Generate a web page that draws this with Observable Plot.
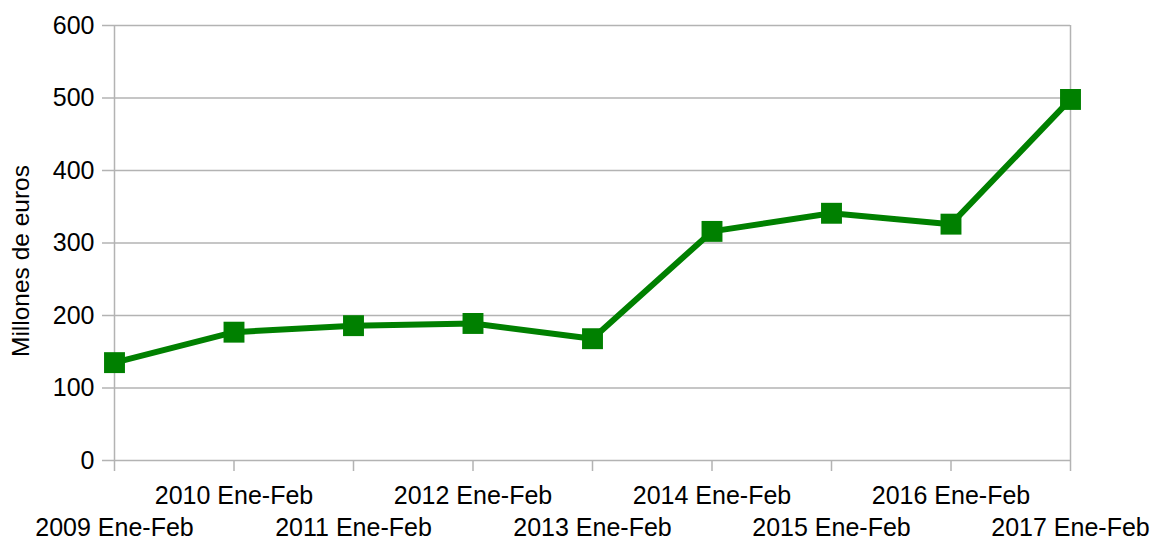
<!DOCTYPE html>
<html>
<head>
<meta charset="utf-8">
<script src="https://cdn.jsdelivr.net/npm/d3@7"></script>
<script src="https://cdn.jsdelivr.net/npm/@observablehq/plot@0.6"></script>
<style>
  html, body { margin: 0; padding: 0; background: #fff; }
</style>
</head>
<body>
<div id="chart"></div>
<script>
const categories = ["2009 Ene-Feb", "2010 Ene-Feb", "2011 Ene-Feb", "2012 Ene-Feb", "2013 Ene-Feb", "2014 Ene-Feb", "2015 Ene-Feb", "2016 Ene-Feb", "2017 Ene-Feb"];
const values = [135, 177, 186, 189, 168, 316, 341, 326, 498];
const yTicks = [0, 100, 200, 300, 400, 500, 600];
const yLabel = "Millones de euros";

const data = categories.map((c, i) => ({cat: c, value: values[i]}));
const upper = categories.filter((c, i) => i % 2 === 1);
const lower = categories.filter((c, i) => i % 2 === 0);
const grey = "#b3b3b3";
const green = "#008000";
const fs = 25;

const chart = Plot.plot({
  width: 1154,
  height: 541,
  marginLeft: 114,
  marginRight: 84,
  marginTop: 25,
  marginBottom: 81,
  style: {fontFamily: "'Liberation Sans', Arial, sans-serif", fontSize: fs + "px", color: "#000", background: "#fff"},
  x: {type: "point", domain: categories, padding: 0, round: false},
  y: {domain: [0, 600]},
  marks: [
    Plot.gridY(yTicks, {stroke: grey, strokeOpacity: 1, strokeWidth: 1.5}),
    Plot.ruleX([categories[0], categories[categories.length - 1]], {y1: 0, y2: 600, stroke: grey, strokeWidth: 1.5}),
    Plot.axisY({ticks: yTicks, tickSize: 12, tickPadding: 8, stroke: grey, strokeWidth: 1.5, fill: "#000", fontSize: fs, label: null}),
    Plot.axisX({ticks: categories, tickSize: 11, tickFormat: () => "", stroke: grey, strokeWidth: 1.5, label: null}),
    Plot.axisX({ticks: upper, tickSize: 0, tickPadding: 26, fill: "#000", fontSize: fs, label: null}),
    Plot.axisX({ticks: lower, tickSize: 0, tickPadding: 58, fill: "#000", fontSize: fs, label: null}),
    Plot.text([yLabel], {frameAnchor: "left", textAnchor: "middle", dx: -93, dy: 18, rotate: -90, fontSize: 24.5, fill: "#000"}),
    Plot.line(data, {x: "cat", y: "value", stroke: green, strokeWidth: 6}),
    Plot.dot(data, {x: "cat", y: "value", symbol: "square", r: 11.8, fill: green, stroke: "none"})
  ]
});
document.getElementById("chart").appendChild(chart);
</script>
</body>
</html>
